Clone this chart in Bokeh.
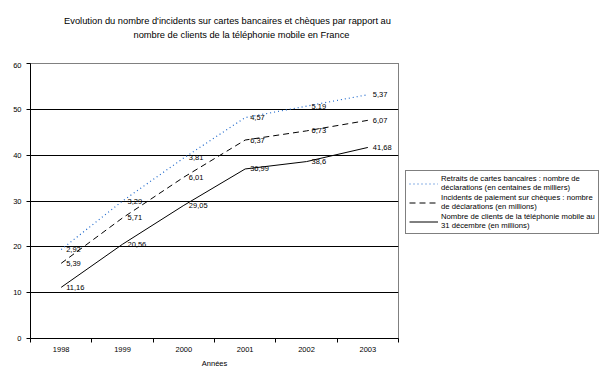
from bokeh.plotting import figure
from bokeh.models import FixedTicker, Legend, LegendItem, Label
from bokeh.layouts import column, row
from bokeh.core.properties import value
from bokeh.embed import file_html
from bokeh.resources import INLINE

years = [1998, 1999, 2000, 2001, 2002, 2003]
year_labels = ["1998", "1999", "2000", "2001", "2002", "2003"]

retraits = [19.4, 30.0, 39.4, 48.2, 50.7, 53.2]
retraits_labels = ["2,92", "3,29", "3,81", "4,57", "5,19", "5,37"]

cheques = [16.4, 26.3, 35.2, 43.3, 45.3, 47.6]
cheques_labels = ["5,39", "5,71", "6,01", "6,37", "6,73", "6,07"]

mobiles = [11.16, 20.56, 29.05, 36.99, 38.6, 41.68]
mobiles_labels = ["11,16", "20,56", "29,05", "36,99", "38,6", "41,68"]

y_ticks = [0, 10, 20, 30, 40, 50, 60]
grid_ticks = [10, 20, 30, 40, 50]

title_lines = [
    "Evolution du nombre d'incidents sur cartes bancaires et chèques par rapport au",
    "nombre de clients de la téléphonie mobile en France",
]
legend_labels = [
    "Retraits de cartes bancaires : nombre de\ndéclarations (en centaines de milliers)",
    "Incidents de paiement sur chèques : nombre\nde déclarations (en millions)",
    "Nombre de clients de la téléphonie mobile au\n31 décembre (en millions)",
]

FONT = "Liberation Sans"
BLUE = "#1a66cc"


def bare(fig):
    fig.xaxis.visible = False
    fig.yaxis.visible = False
    fig.xgrid.visible = False
    fig.ygrid.visible = False
    fig.outline_line_color = None
    fig.title.visible = False
    fig.background_fill_color = "white"
    fig.border_fill_color = "white"


# ---- title strip ----
tf = figure(width=613, height=62, output_backend="svg", toolbar_location=None,
            min_border=0, x_range=(0, 1), y_range=(0, 1))
bare(tf)
tf.add_layout(Label(x=227, y=42, x_units="screen", y_units="screen", text=title_lines[0],
                    text_align="center", text_baseline="middle", text_font=FONT,
                    text_font_size="9.3px", text_color="black"))
tf.add_layout(Label(x=241, y=28, x_units="screen", y_units="screen", text=title_lines[1],
                    text_align="center", text_baseline="middle", text_font=FONT,
                    text_font_size="9.3px", text_color="black"))

# ---- main chart ----
p = figure(width=400, height=320, output_backend="svg", toolbar_location=None,
           x_range=(years[0] - 0.5, years[-1] + 0.5), y_range=(0, 60),
           min_border_left=30, min_border_right=2, min_border_top=1, min_border_bottom=44)
p.title.visible = False
p.background_fill_color = "white"
p.border_fill_color = "white"
p.outline_line_color = "black"
p.outline_line_dash = "1 1"

p.xaxis.ticker = FixedTicker(ticks=years, minor_ticks=[y - 0.5 for y in years] + [years[-1] + 0.5])
p.xaxis.major_label_overrides = {y: l for y, l in zip(years, year_labels)}
p.xaxis.major_tick_line_color = None
p.xaxis.minor_tick_out = 4
p.xaxis.minor_tick_in = 0
p.xaxis.minor_tick_line_color = "black"
p.xaxis.axis_label = "Années"
p.xaxis.axis_label_text_font = FONT
p.xaxis.axis_label_text_font_size = "7.5px"
p.xaxis.axis_label_text_font_style = "normal"
p.xaxis.axis_label_text_color = "black"
p.xaxis.axis_label_standoff = 4
p.xaxis.major_label_standoff = 2

p.yaxis.ticker = FixedTicker(ticks=y_ticks)
p.yaxis.major_tick_out = 4
p.yaxis.major_tick_in = 0
p.yaxis.minor_tick_line_color = None
p.yaxis.major_label_standoff = 5

for ax in (p.xaxis, p.yaxis):
    ax.axis_line_color = "black"
    ax.major_label_text_font = FONT
    ax.major_label_text_font_size = "7.5px"
    ax.major_label_text_color = "black"

p.xgrid.visible = False
p.ygrid.ticker = FixedTicker(ticks=grid_ticks)
p.ygrid.grid_line_color = "black"
p.ygrid.grid_line_alpha = 1.0

p.line(years, retraits, line_color=BLUE, line_dash="1 3", line_width=1.2)
p.line(years, cheques, line_color="black", line_dash="6 4", line_width=1)
p.line(years, mobiles, line_color="black", line_width=1)

for vals, labs in ((retraits, retraits_labels), (cheques, cheques_labels), (mobiles, mobiles_labels)):
    p.text(x=years, y=vals, text=labs, x_offset=5, text_baseline="middle",
           text_font=value(FONT), text_font_size="7.5px", text_color="black")

# ---- legend strip (same series, drawn outside its visible range: only the legend shows) ----
lf = figure(width=213, height=320, output_backend="svg", toolbar_location=None,
            min_border=0, x_range=(0, 1), y_range=(0, 1))
bare(lf)
g1 = lf.line(years, retraits, line_color=BLUE, line_dash="1 3", line_width=1.2)
g2 = lf.line(years, cheques, line_color="black", line_dash="6 4", line_width=1)
g3 = lf.line(years, mobiles, line_color="black", line_width=1)

legend = Legend(items=[LegendItem(label=legend_labels[0], renderers=[g1]),
                       LegendItem(label=legend_labels[1], renderers=[g2]),
                       LegendItem(label=legend_labels[2], renderers=[g3])],
                location=(5, 104))
legend.label_text_font = FONT
legend.label_text_font_size = "7.7px"
legend.label_text_color = "black"
legend.label_text_line_height = 1.55
legend.glyph_width = 29
legend.glyph_height = 11
legend.label_standoff = 3
legend.label_height = 11
legend.spacing = 1
legend.padding = 3
legend.margin = 0
legend.border_line_color = "black"
legend.border_line_width = 1
legend.background_fill_color = "white"
lf.add_layout(legend, "center")

layout = column(tf, row(p, lf, spacing=0), spacing=0)
open("out.html", "w").write(file_html(layout, INLINE))
